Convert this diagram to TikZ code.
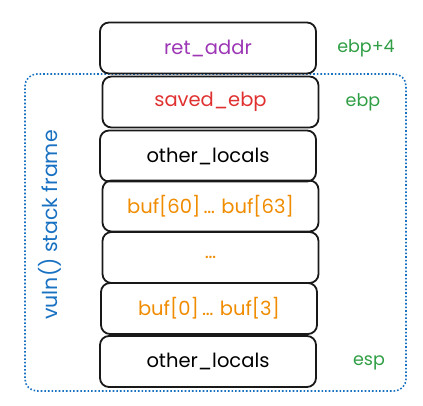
\documentclass[tikz,border=0pt]{standalone}
\usepackage{fontspec}
\setmainfont{Poppins}
\definecolor{cpurple}{HTML}{9C36B5}
\definecolor{cred}{HTML}{E03131}
\definecolor{corange}{HTML}{F08C00}
\definecolor{cgreen}{HTML}{2F9E44}
\definecolor{cblue}{HTML}{1971C2}
\begin{document}
\begin{tikzpicture}[x=1pt,y=-1pt,
  cell/.style={draw=black!90, line width=1.8pt, rounded corners=9pt, minimum width=216pt, minimum height=51pt, inner sep=0pt, font=\fontsize{19.5}{22}\selectfont},
  reg/.style={text=cgreen, font=\fontsize{17.5}{20}\selectfont},
  frame/.style={draw=cblue, line width=1.6pt, dotted, rounded corners=12pt}]
\useasboundingbox (0,0) rectangle (423,406);
\node[frame, minimum width=381pt, minimum height=317pt, inner sep=0pt] (fr) at (215.5,232.5) {};
\node[cell, text=cpurple] (ra) at (208,48) {ret\_addr};
\node[cell, text=cred] (se) at (210.5,102) {saved\_ebp};
\node[cell] (ol1) at (208,156) {other\_locals};
\node[cell, text=corange] (b60) at (210.5,206) {buf[60]\,\dots\,\,buf[63]};
\node[cell, text=corange] (dots) at (210.5,257.5) {\dots};
\node[cell, text=corange] (b0) at (209,308.5) {buf[0]\,\dots\,\,buf[3]};
\node[cell] (ol2) at (208,361.5) {other\_locals};
\node[reg] (l1) at (366,48) {ebp+4};
\node[reg] (l2) at (363,102) {ebp};
\node[reg] (l3) at (369,363) {esp};
\node[text=cblue, font=\fontsize{20.5}{24}\selectfont, rotate=90] (vl) at (50,225) {vuln() stack frame};
\end{tikzpicture}
\end{document}
